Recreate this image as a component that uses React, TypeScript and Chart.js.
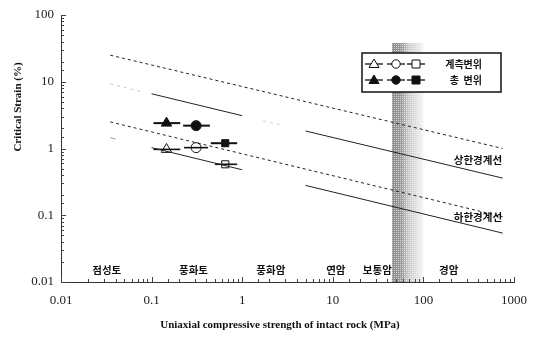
import React, { useEffect, useRef } from 'react';
import { Chart, registerables } from 'chart.js';

Chart.register(...registerables);

// ---- tick labels ----
const xTickLabels = ['0.01', '0.1', '1', '10', '100', '1000'];
const yTickLabels = ['0.01', '0.1', '1', '10', '100'];

// ---- boundary lines (x in MPa, y in %) ----
const upperDashX = [0.035, 750];
const upperDashY = [25, 1.0];
const upperSolidAX = [0.1, 1];
const upperSolidAY = [6.6, 3.1];
const upperSolidBX = [5, 750];
const upperSolidBY = [1.83, 0.36];
const upperFaintAX = [0.035, 0.075];
const upperFaintAY = [9.3, 7.2];
const upperFaintBX = [1.7, 2.6];
const upperFaintBY = [2.6, 2.3];
const lowerDashX = [0.035, 750];
const lowerDashY = [2.5, 0.095];
const lowerSolidAX = [0.1, 1];
const lowerSolidAY = [1.03, 0.48];
const lowerSolidBX = [5, 750];
const lowerSolidBY = [0.28, 0.054];
const lowerFaintX = [0.035, 0.04];
const lowerFaintY = [1.45, 1.39];

// ---- data points ----
const totalX = [0.146, 0.31, 0.65];
const totalY = [2.4, 2.2, 1.2];
const totalMin = [0.105, 0.223, 0.45];
const totalMax = [0.207, 0.44, 0.88];
const measuredX = [0.146, 0.31, 0.65];
const measuredY = [0.97, 1.03, 0.58];
const measuredMin = [0.105, 0.228, 0.5];
const measuredMax = [0.207, 0.42, 0.88];
const markerStyles = ['triangle', 'circle', 'rect'];

// ---- shaded band ----
const bandX = [45, 100];
const bandTopY = 38;

// ---- text labels ----
const zoneNames = ['점성토', '풍화토', '풍화암', '연암', '보통암', '경암'];
const zoneX = [0.032, 0.29, 2.07, 10.8, 31, 190];
const zoneY = 0.015;
const boundaryNames = ['상한경계선', '하한경계선'];
const boundaryX = [400, 400];
const boundaryY = [0.67, 0.094];
const legendNames = ['계측변위', '총  변위'];
const xTitle = 'Uniaxial compressive strength of intact rock (MPa)';
const yTitle = 'Critical Strain (%)';

const pts = (xs: number[], ys: number[]) => xs.map((x, i) => ({ x, y: ys[i] }));

const lineDs = (xs: number[], ys: number[], color: string, dash: number[], width = 1) => ({
  data: pts(xs, ys),
  showLine: true,
  borderColor: color,
  borderWidth: width,
  borderDash: dash,
  pointRadius: 0,
  fill: false,
});

const KFONT = '"Noto Sans CJK KR", "Noto Sans", sans-serif';
const SERIF = '"Liberation Serif", "DejaVu Serif", serif';

const decorPlugin = {
  id: 'decor',
  beforeDatasetsDraw(chart: any) {
    const { ctx, chartArea } = chart;
    const xs = chart.scales.x;
    const ys = chart.scales.y;
    const x0 = xs.getPixelForValue(bandX[0]);
    const x1 = xs.getPixelForValue(bandX[1]);
    const yTop = ys.getPixelForValue(bandTopY);
    const yBot = chartArea.bottom;
    ctx.save();
    const g = ctx.createLinearGradient(x0, 0, x1, 0);
    g.addColorStop(0, '#8a8a8a');
    g.addColorStop(0.3, '#999');
    g.addColorStop(0.5, '#c8c8c8');
    g.addColorStop(1, '#f4f4f4');
    ctx.fillStyle = g;
    ctx.fillRect(x0, yTop, x1 - x0, yBot - yTop);
    // halftone stipple
    const pc = document.createElement('canvas');
    pc.width = 2;
    pc.height = 2;
    const pctx = pc.getContext('2d')!;
    pctx.fillStyle = 'rgba(255,255,255,0.6)';
    pctx.fillRect(0, 0, 1, 1);
    const pat = ctx.createPattern(pc, 'repeat');
    if (pat) {
      ctx.fillStyle = pat;
      ctx.fillRect(x0, yTop, x1 - x0, yBot - yTop);
    }
    // zone labels
    ctx.fillStyle = '#111';
    ctx.font = `bold 10.5px ${KFONT}`;
    ctx.textAlign = 'center';
    ctx.textBaseline = 'middle';
    zoneNames.forEach((n, i) => {
      ctx.fillText(n, xs.getPixelForValue(zoneX[i]), ys.getPixelForValue(zoneY));
    });
    ctx.restore();
  },
  afterDraw(chart: any) {
    const { ctx, chartArea } = chart;
    const xs = chart.scales.x;
    const ys = chart.scales.y;
    ctx.save();
    // inward tick marks
    ctx.strokeStyle = '#444';
    ctx.lineWidth = 1;
    xs.ticks.forEach((t: any) => {
      const l = Math.log10(t.value);
      const major = Math.abs(l - Math.round(l)) < 1e-6;
      const px = Math.round(xs.getPixelForValue(t.value)) + 0.5;
      ctx.beginPath();
      ctx.moveTo(px, chartArea.bottom);
      ctx.lineTo(px, chartArea.bottom - (major ? 5 : 3));
      ctx.stroke();
    });
    ys.ticks.forEach((t: any) => {
      const l = Math.log10(t.value);
      const major = Math.abs(l - Math.round(l)) < 1e-6;
      const py = Math.round(ys.getPixelForValue(t.value)) + 0.5;
      ctx.beginPath();
      ctx.moveTo(chartArea.left, py);
      ctx.lineTo(chartArea.left + (major ? 5 : 3), py);
      ctx.stroke();
    });
    // boundary labels
    ctx.fillStyle = '#111';
    ctx.font = `bold 10.5px ${KFONT}`;
    ctx.textAlign = 'center';
    ctx.textBaseline = 'middle';
    boundaryNames.forEach((n, i) => {
      ctx.fillText(n, xs.getPixelForValue(boundaryX[i]), ys.getPixelForValue(boundaryY[i]));
    });
    // legend box
    const bl = chartArea.right - 152;
    const br = chartArea.right - 13;
    const bt = chartArea.top + 38;
    const bb = bt + 39;
    ctx.fillStyle = '#fff';
    ctx.fillRect(bl, bt, br - bl, bb - bt);
    ctx.strokeStyle = '#111';
    ctx.lineWidth = 1.5;
    ctx.strokeRect(bl, bt, br - bl, bb - bt);
    const rows = [bt + 11, bt + 27];
    const sx = [bl + 12, bl + 34, bl + 54];
    rows.forEach((ry, r) => {
      const filled = r === 1;
      sx.forEach((cx, k) => {
        ctx.strokeStyle = '#111';
        ctx.lineWidth = 1.3;
        ctx.beginPath();
        ctx.moveTo(cx - 9, ry);
        ctx.lineTo(cx + 9, ry);
        ctx.stroke();
        ctx.beginPath();
        if (k === 0) {
          ctx.moveTo(cx, ry - 5);
          ctx.lineTo(cx + 5, ry + 3.5);
          ctx.lineTo(cx - 5, ry + 3.5);
          ctx.closePath();
        } else if (k === 1) {
          ctx.arc(cx, ry, 4.2, 0, Math.PI * 2);
        } else {
          ctx.rect(cx - 4, ry - 4, 8, 8);
        }
        ctx.fillStyle = filled ? '#111' : '#fff';
        ctx.fill();
        ctx.lineWidth = 1;
        ctx.stroke();
      });
      ctx.fillStyle = '#111';
      ctx.font = `bold 10px ${KFONT}`;
      ctx.textAlign = 'right';
      ctx.textBaseline = 'middle';
      ctx.fillText(legendNames[r], bl + 120, ry);
    });
    // axis titles
    ctx.fillStyle = '#111';
    ctx.font = `bold 11px ${SERIF}`;
    ctx.textAlign = 'center';
    ctx.textBaseline = 'middle';
    ctx.fillText(xTitle, chartArea.left + 219, chartArea.bottom + 43);
    ctx.translate(18, chartArea.top + 92);
    ctx.rotate(-Math.PI / 2);
    ctx.fillText(yTitle, 0, 0);
    ctx.restore();
  },
};

const decadeLabel = (labels: string[], minExp: number) => (value: any) => {
  const v = Number(value);
  const l = Math.log10(v);
  const r = Math.round(l);
  if (Math.abs(l - r) < 1e-6) return labels[r - minExp] ?? '';
  return '';
};

export default function App() {
  const ref = useRef<HTMLCanvasElement | null>(null);
  useEffect(() => {
    if (!ref.current) return;
    const errBars: any[] = [];
    totalX.forEach((_, i) => {
      errBars.push(lineDs([totalMin[i], totalMax[i]], [totalY[i], totalY[i]], '#111', [], 2));
      errBars.push(lineDs([measuredMin[i], measuredMax[i]], [measuredY[i], measuredY[i]], '#111', [], 1.6));
    });
    const chart = new Chart(ref.current, {
      type: 'scatter',
      data: {
        datasets: [
          lineDs(upperFaintAX, upperFaintAY, '#c8c8c8', [3, 4]),
          lineDs(upperFaintBX, upperFaintBY, '#d0d0d0', [3, 4]),
          lineDs(lowerFaintX, lowerFaintY, '#999', []),
          lineDs(upperDashX, upperDashY, '#222', [3, 3]),
          lineDs(upperSolidAX, upperSolidAY, '#222', []),
          lineDs(upperSolidBX, upperSolidBY, '#222', []),
          lineDs(lowerDashX, lowerDashY, '#222', [3, 3]),
          lineDs(lowerSolidAX, lowerSolidAY, '#222', []),
          lineDs(lowerSolidBX, lowerSolidBY, '#222', []),
          ...errBars,
          {
            data: pts(totalX, totalY),
            showLine: false,
            pointStyle: markerStyles,
            pointRadius: [6, 5, 5],
            backgroundColor: '#111',
            borderColor: '#111',
            borderWidth: 1,
          },
          {
            data: pts(measuredX, measuredY),
            showLine: false,
            pointStyle: markerStyles,
            pointRadius: [6, 5, 5],
            backgroundColor: '#fff',
            borderColor: '#111',
            borderWidth: 1,
          },
        ] as any,
      },
      options: {
        responsive: false,
        animation: false,
        layout: { padding: { top: 15, right: 18, left: 0, bottom: 0 } },
        plugins: { legend: { display: false }, tooltip: { enabled: false } },
        scales: {
          x: {
            type: 'logarithmic',
            min: 0.01,
            max: 1000,
            grid: { display: false, drawTicks: false },
            border: { display: true, color: '#333', width: 1 },
            ticks: {
              autoSkip: false,
              maxRotation: 0,
              padding: 11,
              color: '#222',
              font: { family: SERIF, size: 13 },
              callback: decadeLabel(xTickLabels, -2),
            },
            afterFit: (s: any) => {
              s.height = 55;
            },
          },
          y: {
            type: 'logarithmic',
            min: 0.01,
            max: 100,
            grid: { display: false, drawTicks: false },
            border: { display: true, color: '#333', width: 1 },
            ticks: {
              autoSkip: false,
              padding: 7,
              color: '#222',
              font: { family: SERIF, size: 13 },
              callback: decadeLabel(yTickLabels, -2),
            },
            afterFit: (s: any) => {
              s.width = 61;
            },
          },
        },
      } as any,
      plugins: [decorPlugin],
    });
    return () => chart.destroy();
  }, []);
  return (
    <div style={{ position: 'absolute', left: 0, top: 0, width: 538, height: 337, background: '#fff' }}>
      <canvas ref={ref} width={538} height={337} />
    </div>
  );
}
